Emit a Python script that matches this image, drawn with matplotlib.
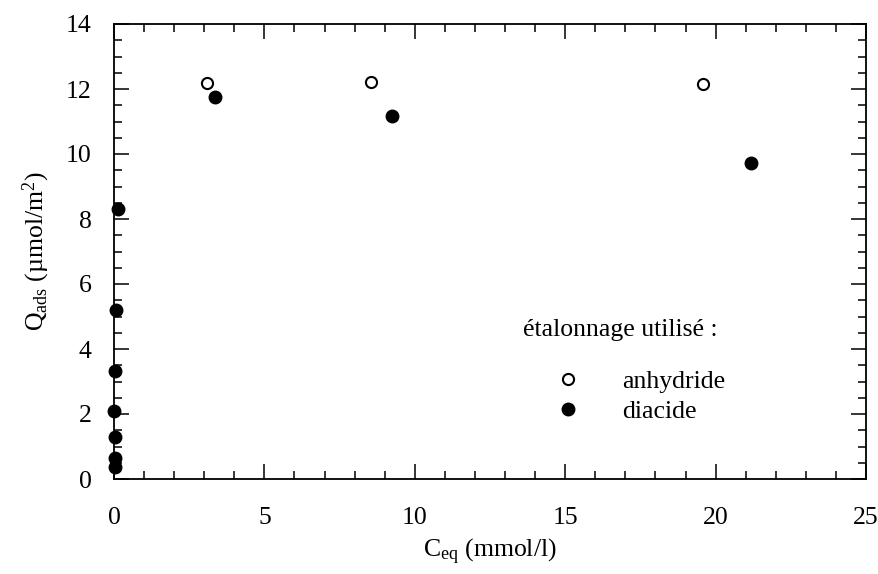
import matplotlib
matplotlib.use("Agg")
import matplotlib.pyplot as plt
from matplotlib.ticker import MultipleLocator

plt.rcParams['font.family'] = ['Liberation Serif', 'DejaVu Serif']
plt.rcParams['mathtext.fontset'] = 'custom'
plt.rcParams['mathtext.rm'] = 'Liberation Serif'
plt.rcParams['mathtext.it'] = 'Liberation Serif:italic'

# etalonnage anhydride (symboles ouverts)
anh_ceq = [3.10, 8.53, 19.58]
anh_qads = [12.17, 12.22, 12.15]

# etalonnage diacide (symboles pleins)
dia_ceq = [0.03, 0.03, 0.02, 0.01, 0.03, 0.05, 0.13, 3.36, 9.24, 21.18]
dia_qads = [0.38, 0.64, 1.28, 2.10, 3.33, 5.20, 8.31, 11.76, 11.17, 9.71]

fs = 18.5

fig = plt.figure(figsize=(8.79, 5.74), dpi=100)
ax = fig.add_axes([114/879, 1-479/574, 752/879, 455/574])

ax.plot(anh_ceq, anh_qads, 'o', mfc='white', mec='black', mew=1.5, ms=8,
        clip_on=False, label='anhydride')
ax.plot(dia_ceq, dia_qads, 'o', color='black', ms=9,
        clip_on=False, label='diacide')

ax.set_xlim(0, 25)
ax.set_ylim(0, 14)
ax.xaxis.set_major_locator(MultipleLocator(5))
ax.xaxis.set_minor_locator(MultipleLocator(1))
ax.yaxis.set_major_locator(MultipleLocator(2))
ax.yaxis.set_minor_locator(MultipleLocator(0.5))
ax.tick_params(which='both', direction='in', top=True, right=True, width=1.1)
ax.tick_params(which='major', length=11)
ax.tick_params(which='minor', length=5.5)
ax.tick_params(axis='x', which='major', pad=20, labelsize=fs)
ax.tick_params(axis='y', which='major', pad=16, labelsize=fs)
for s in ax.spines.values():
    s.set_linewidth(1.3)

ax.set_xlabel(r'C$_{\mathrm{eq}}$ (mmol/l)', fontsize=fs, labelpad=6)
ax.set_ylabel(r'Q$_{\mathrm{ads}}$ (µmol/m$^{2}$)', fontsize=fs, labelpad=10)

ax.text(0.5435, 0.314, 'étalonnage utilisé :', transform=ax.transAxes,
        fontsize=fs, ha='left', va='baseline')
ax.legend(loc='upper left', bbox_to_anchor=(0.573, 0.240), frameon=False,
          fontsize=fs, borderpad=0, borderaxespad=0, handlelength=1.77,
          handletextpad=1.22, labelspacing=0.3)

fig.savefig('out.png', dpi=100)
